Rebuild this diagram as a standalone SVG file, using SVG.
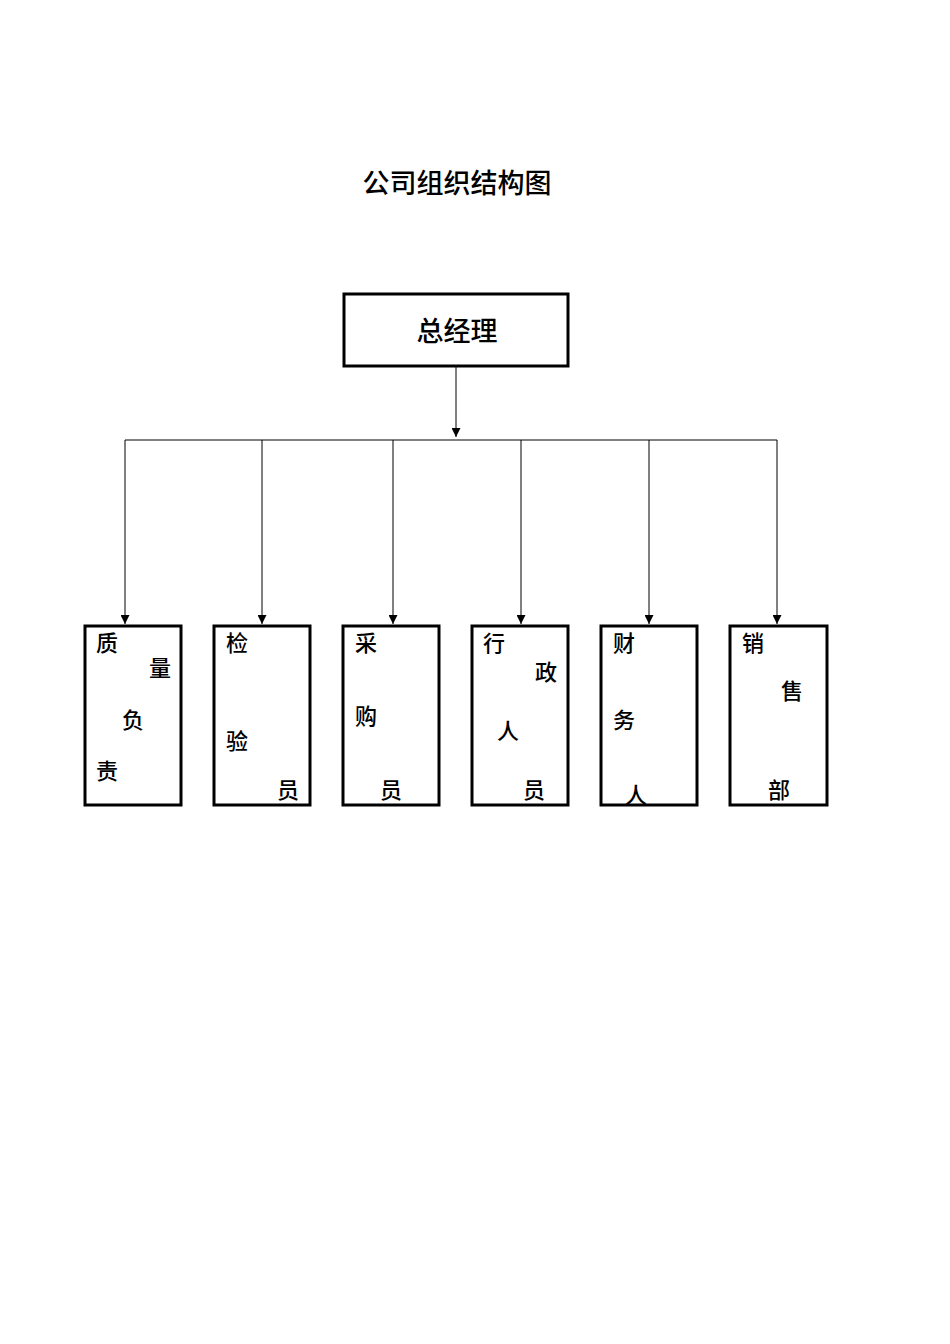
<svg xmlns="http://www.w3.org/2000/svg" width="950" height="1344" viewBox="0 0 950 1344">
<style>
text{font-family:"Noto Sans CJK SC","Liberation Sans",sans-serif;fill:#000;text-anchor:middle;dominant-baseline:central;font-weight:500}
.c{font-size:22px}
.b{fill:#fff;stroke:#000;stroke-width:3}
.l{stroke:#000;stroke-width:1;fill:none}
</style>
<defs><marker id="a" viewBox="0 0 10 10" refX="10" refY="5" markerWidth="9" markerHeight="9" markerUnits="userSpaceOnUse" orient="auto"><path d="M0,0L10,5L0,10z" fill="#000"/></marker></defs>
<rect width="950" height="1344" fill="#fff"/>
<text x="457" y="181" font-size="27">公司组织结构图</text>
<g id="connectors">
<path class="l" d="M456,367V437" marker-end="url(#a)"/>
<path class="l" d="M125,440H777"/>
<path class="l" d="M125,440V624" marker-end="url(#a)"/>
<path class="l" d="M262,440V624" marker-end="url(#a)"/>
<path class="l" d="M393,440V624" marker-end="url(#a)"/>
<path class="l" d="M521,440V624" marker-end="url(#a)"/>
<path class="l" d="M649,440V624" marker-end="url(#a)"/>
<path class="l" d="M777,440V624" marker-end="url(#a)"/>
</g>
<g id="gm"><rect class="b" x="344" y="294" width="224" height="72"/><text x="457" y="329" font-size="27">总经理</text></g>
<g id="n1" class="c"><rect class="b" x="85" y="626" width="96" height="179"/><text x="107" y="641">质</text><text x="160" y="666">量</text><text x="133" y="718">负</text><text x="107" y="769">责</text></g>
<g id="n2" class="c"><rect class="b" x="214" y="626" width="96" height="179"/><text x="237" y="641">检</text><text x="237" y="739">验</text><text x="288" y="788">员</text></g>
<g id="n3" class="c"><rect class="b" x="343" y="626" width="96" height="179"/><text x="366" y="641">采</text><text x="366" y="714">购</text><text x="391" y="788">员</text></g>
<g id="n4" class="c"><rect class="b" x="472" y="626" width="96" height="179"/><text x="494" y="641">行</text><text x="546" y="670">政</text><text x="508" y="729">人</text><text x="534" y="788">员</text></g>
<g id="n5" class="c"><rect class="b" x="601" y="626" width="96" height="179"/><text x="624" y="641">财</text><text x="624" y="718">务</text><text x="636" y="793">人</text><rect x="601" y="804" width="96" height="2" fill="#000"/></g>
<g id="n6" class="c"><rect class="b" x="730" y="626" width="97" height="179"/><text x="753" y="641">销</text><text x="792" y="689">售</text><text x="779" y="788">部</text></g>
</svg>
